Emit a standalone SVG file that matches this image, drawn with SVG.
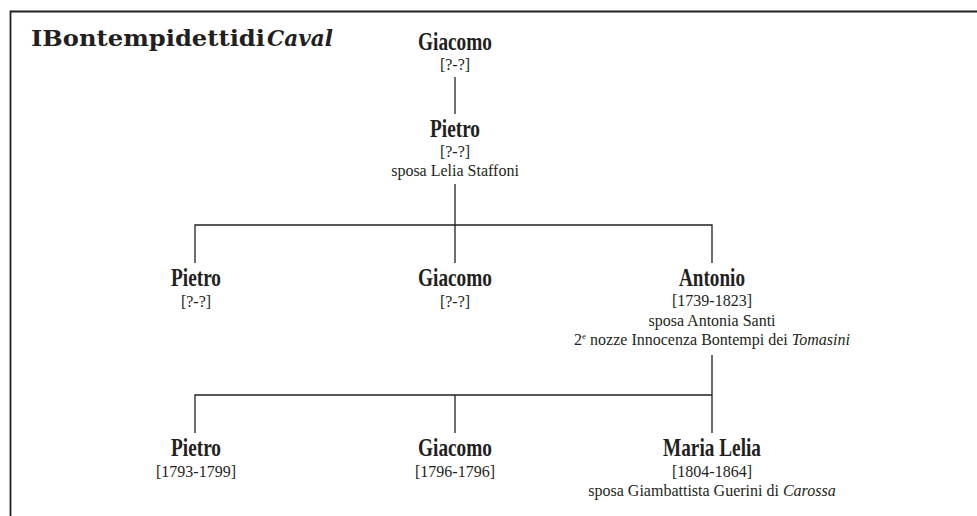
<svg xmlns="http://www.w3.org/2000/svg" width="977" height="516" viewBox="0 0 977 516">
<style>
.name{font-family:"Liberation Serif","Times New Roman",serif;font-weight:bold;font-size:26px;fill:#231f20;text-anchor:middle}
.det{font-family:"Liberation Serif","Times New Roman",serif;font-size:16px;fill:#231f20;text-anchor:middle}
.it{font-style:italic}
.title{font-family:"DejaVu Serif",serif;font-weight:bold;font-size:22px;fill:#231f20}
.ln{stroke:#231f20;stroke-width:1.3;fill:none}
</style>
<rect width="977" height="516" fill="#fff"/>
<path d="M10.5,516 V11.5 H977" stroke="#231f20" stroke-width="1.8" fill="none"/>
<g id="title">
<text class="title" x="31" y="46" textLength="234" lengthAdjust="spacingAndGlyphs">IBontempidettidi</text>
<text class="title it" x="267" y="46" textLength="66" lengthAdjust="spacingAndGlyphs">Caval</text>
</g>
<g id="connectors" class="ln">
<path d="M455,77 V114"/>
<path d="M455,184 V225 M195,263 V225 H712 V263 M455,225 V263"/>
<path d="M712,355 V395 M195,433 V395 H712 V433 M455,395 V433"/>
</g>
<g id="giacomo0">
<text class="name" x="455" y="50" textLength="74" lengthAdjust="spacingAndGlyphs">Giacomo</text>
<text class="det" x="455" y="70">[?-?]</text>
</g>
<g id="pietro0">
<text class="name" x="455" y="137" textLength="50" lengthAdjust="spacingAndGlyphs">Pietro</text>
<text class="det" x="455" y="157">[?-?]</text>
<text class="det" x="455" y="176">sposa Lelia Staffoni</text>
</g>
<g id="pietro1">
<text class="name" x="196" y="286" textLength="50" lengthAdjust="spacingAndGlyphs">Pietro</text>
<text class="det" x="196" y="307">[?-?]</text>
</g>
<g id="giacomo1">
<text class="name" x="455" y="286" textLength="74" lengthAdjust="spacingAndGlyphs">Giacomo</text>
<text class="det" x="455" y="307">[?-?]</text>
</g>
<g id="antonio">
<text class="name" x="712" y="286" textLength="66" lengthAdjust="spacingAndGlyphs">Antonio</text>
<text class="det" x="712" y="306">[1739-1823]</text>
<text class="det" x="712" y="326">sposa Antonia Santi</text>
<text class="det" x="712" y="345">2<tspan font-size="9" dy="-6">e</tspan><tspan dy="6"> nozze Innocenza Bontempi dei </tspan><tspan class="it">Tomasini</tspan></text>
</g>
<g id="pietro2">
<text class="name" x="196" y="456" textLength="50" lengthAdjust="spacingAndGlyphs">Pietro</text>
<text class="det" x="196" y="477">[1793-1799]</text>
</g>
<g id="giacomo2">
<text class="name" x="455" y="456" textLength="74" lengthAdjust="spacingAndGlyphs">Giacomo</text>
<text class="det" x="455" y="477">[1796-1796]</text>
</g>
<g id="marialelia">
<text class="name" x="712" y="456" textLength="98" lengthAdjust="spacingAndGlyphs">Maria Lelia</text>
<text class="det" x="712" y="477">[1804-1864]</text>
<text class="det" x="712" y="496">sposa Giambattista Guerini di <tspan class="it">Carossa</tspan></text>
</g>
</svg>
